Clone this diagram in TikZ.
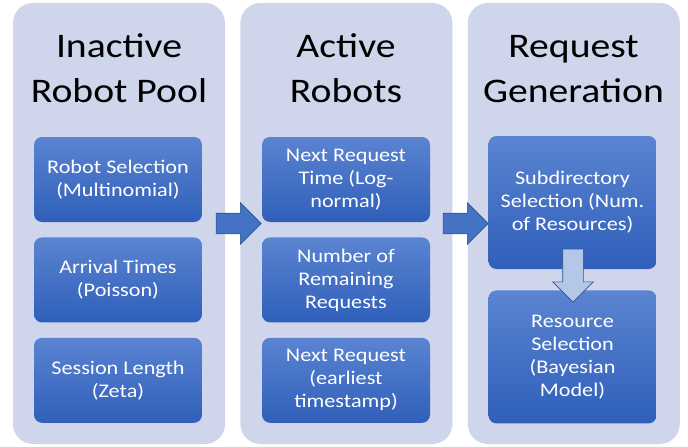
\documentclass[tikz,border=0pt]{standalone}
\usepackage{fontspec}
\setmainfont{Carlito}[FakeStretch=1.15]
\usetikzlibrary{positioning,shapes.arrows}
\definecolor{poolbg}{HTML}{CFD5EA}
\definecolor{boxtop}{HTML}{5B84D1}
\definecolor{boxbot}{HTML}{2F5FBA}
\definecolor{flowfill}{HTML}{4472C4}
\definecolor{flowline}{HTML}{2F528F}
\definecolor{downfill}{HTML}{B4C7E7}

\begin{document}
\begin{tikzpicture}[x=1pt,y=-1pt,
  stage/.style={rounded corners=20pt,fill=poolbg,minimum width=212pt,minimum height=441pt,inner sep=0pt},
  title/.style={align=center,font=\fontsize{34.5}{45}\selectfont,anchor=base},
  part/.style={rounded corners=8pt,top color=boxtop,bottom color=boxbot,minimum width=168pt,minimum height=85pt,
    align=center,text=white,font=\fontsize{19.3}{23}\selectfont,inner sep=0pt},
  bigpart/.style={part,minimum height=133pt},
  flow/.style={single arrow,single arrow head extend=10.5pt,minimum width=41pt,minimum height=45pt,inner sep=10pt,
    fill=flowfill,draw=flowline,line width=0.6pt},
  down/.style={single arrow,shape border rotate=270,single arrow head extend=10pt,minimum width=40pt,minimum height=53pt,
    inner sep=10pt,fill=downfill,draw=flowline,line width=0.6pt}]
        \useasboundingbox (0,0) rectangle (688,447);
        % columns
        \node[stage](pool)                      at (119,223.5) {};
        \node[stage](active) [right=15pt of pool]   {};
        \node[stage](gen)    [right=15pt of active] {};
        \node[title](tpool)   at (119,102)   {Inactive\\Robot Pool};
        \node[title](tactive) at (346,102)   {Active\\Robots};
        \node[title](tgen)    at (573.5,102) {Request\\Generation};
        % inactive robot pool
        \node[part](sel)                       at (118,179.5) {Robot Selection\\(Multinomial)};
        \node[part](arr)   [below=15pt of sel] {Arrival Times\\(Poisson)};
        \node[part](ses)   [below=15pt of arr] {Session Length\\(Zeta)};
        % active robots
        \node[part](next)                         at (346,179.5) {Next Request\\Time (Log-\\normal)};
        \node[part](remain)   [below=15pt of next]   {Number of\\Remaining\\Requests};
        \node[part](earliest) [below=15pt of remain] {Next Request\\(earliest\\timestamp)};
        % request generation
        \node[bigpart](subdir)                      at (572.5,202.5) {Subdirectory\\Selection (Num.\\of Resources)};
        \node[bigpart](res)    [below=21pt of subdir] {Resource\\Selection\\(Bayesian\\Model)};
        % arrows
        \node[flow](f1) at (233.5,223.5) {};
        \node[flow](f2) at (460.5,223.5) {};
        \node[down](d1) at (573,270.5)   {};
\end{tikzpicture}
\end{document}
